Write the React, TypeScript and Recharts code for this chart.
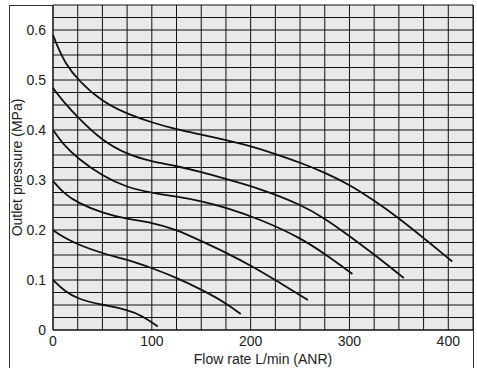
import React from 'react';
import { LineChart, Line, XAxis, YAxis, CartesianGrid } from 'recharts';

// [flow L/min, outlet pressure MPa]
const curve06: [number, number][] = [
  [0, 0.59], [5, 0.565], [12, 0.535], [25, 0.5], [50, 0.456], [75, 0.432],
  [100, 0.415], [125, 0.401], [150, 0.391], [175, 0.38], [200, 0.368], [225, 0.352],
  [250, 0.335], [275, 0.315], [300, 0.291], [325, 0.259], [350, 0.224], [375, 0.184],
  [404, 0.137],
];
const curve05: [number, number][] = [
  [0, 0.484], [10, 0.458], [25, 0.425], [50, 0.378], [75, 0.351], [100, 0.337],
  [125, 0.328], [150, 0.316], [175, 0.302], [209, 0.283], [251, 0.251], [276, 0.222],
  [300, 0.188], [325, 0.151], [355, 0.104],
];
const curve04: [number, number][] = [
  [0, 0.4], [10, 0.372], [25, 0.343], [50, 0.308], [75, 0.285], [100, 0.274],
  [125, 0.267], [150, 0.258], [175, 0.245], [209, 0.222], [251, 0.184], [276, 0.151],
  [303, 0.112],
];
const curve03: [number, number][] = [
  [0, 0.298], [10, 0.275], [25, 0.254], [50, 0.234], [75, 0.222], [100, 0.215],
  [125, 0.201], [151, 0.177], [176, 0.154], [202, 0.127], [230, 0.094], [258, 0.06],
];
const curve02: [number, number][] = [
  [0, 0.2], [10, 0.186], [25, 0.171], [50, 0.153], [75, 0.141], [100, 0.124],
  [126, 0.104], [151, 0.08], [175, 0.054], [190, 0.032],
];
const curve01: [number, number][] = [
  [0, 0.1], [12, 0.077], [25, 0.062], [50, 0.05], [75, 0.041], [91, 0.028], [106, 0.007],
];

const curves = [curve06, curve05, curve04, curve03, curve02, curve01];

const flowTicks = Array.from({ length: 18 }, (_, i) => i * 25);
const pressureTicks = Array.from({ length: 27 }, (_, i) => Math.round(i * 25) / 1000);

const font = '"Liberation Sans", Arial, Helvetica, sans-serif';
const tickStyle = { fill: '#222', fontSize: 14, fontFamily: font };

export default function App() {
  return (
    <div style={{ position: 'absolute', left: 0, top: 0, width: 477, height: 368, overflow: 'hidden', background: '#fff' }}>
      <div
        style={{
          position: 'absolute',
          left: 9,
          top: 5,
          width: 465,
          height: 380,
          border: '1px solid #333',
          boxSizing: 'border-box',
        }}
      />
      <div style={{ position: 'absolute', left: 0, top: 0 }}>
        <LineChart width={477} height={368} margin={{ top: 5, right: 4, left: 9, bottom: 0 }}>
          <CartesianGrid
            fill="#e8e9e9"
            fillOpacity={1}
            stroke="#111"
            strokeWidth={1}
            strokeOpacity={1}
          />
          <XAxis
            type="number"
            dataKey="q"
            domain={[0, 425]}
            ticks={flowTicks}
            interval={0}
            height={38}
            tickLine={false}
            tickSize={0}
            tickMargin={6}
            axisLine={{ stroke: '#111' }}
            tick={tickStyle}
            tickFormatter={(v: number) => (v % 100 === 0 ? String(v) : '')}
            label={{
              value: 'Flow rate L/min (ANR)',
              position: 'insideBottom',
              offset: 4,
              style: { fill: '#222', fontSize: 14, fontFamily: font },
            }}
          />
          <YAxis
            type="number"
            dataKey="p"
            domain={[0, 0.65]}
            ticks={pressureTicks}
            interval={0}
            width={44}
            tickLine={false}
            tickSize={0}
            tickMargin={7}
            axisLine={{ stroke: '#111' }}
            tick={tickStyle}
            tickFormatter={(v: number) => {
              const k = Math.round(v * 1000);
              return k % 100 === 0 ? String(k / 1000) : '';
            }}
            label={{
              value: 'Outlet pressure (MPa)',
              angle: -90,
              position: 'insideLeft',
              offset: 8,
              style: { fill: '#222', fontSize: 14, fontFamily: font, textAnchor: 'middle' },
            }}
          />
          {curves.map((c, i) => (
            <Line
              key={i}
              data={c.map(([q, p]) => ({ q, p }))}
              dataKey="p"
              type="basis"
              stroke="#111"
              strokeWidth={1.8}
              dot={false}
              activeDot={false}
              isAnimationActive={false}
            />
          ))}
        </LineChart>
      </div>
    </div>
  );
}
